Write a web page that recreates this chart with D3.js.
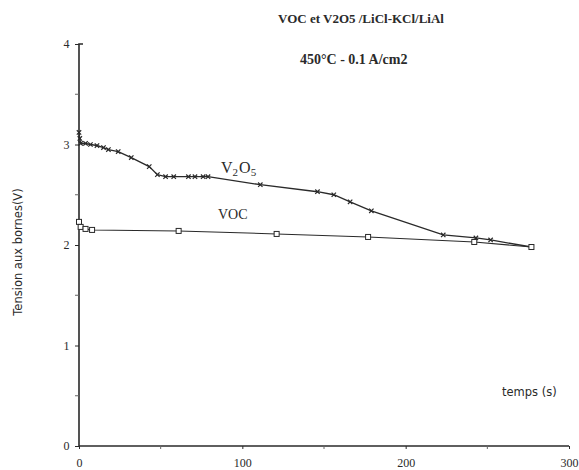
<!DOCTYPE html>
<html>
<head>
<meta charset="utf-8">
<script src="https://cdn.jsdelivr.net/npm/d3@7/dist/d3.min.js"></script>
<style>
  html, body { margin: 0; padding: 0; background: #fff; }
  svg { display: block; }
</style>
</head>
<body>
<svg id="chart" width="579" height="470"></svg>
<script>
// ---- data ----
const v2o5Time = [0, 0.5, 1, 4, 7, 11, 15, 18, 24, 32, 43, 48, 53, 58, 67, 71, 76, 79, 111, 146, 156, 166, 179, 223, 243, 252, 277];
const v2o5Volt = [3.12, 3.06, 3.01, 3.01, 3.0, 2.99, 2.97, 2.95, 2.93, 2.87, 2.78, 2.70, 2.68, 2.68, 2.68, 2.68, 2.68, 2.68, 2.60, 2.53, 2.50, 2.43, 2.34, 2.10, 2.07, 2.05, 1.98];
const vocTime = [0, 1, 4, 8, 61, 121, 177, 242, 277];
const vocVolt = [2.23, 2.18, 2.16, 2.15, 2.14, 2.11, 2.08, 2.03, 1.98];
const xTicks = [0, 100, 200, 300];
const yTicks = [0, 1, 2, 3, 4];
const xMinorTicks = [50, 150, 250];
const yMinorTicks = [0.5, 1.5, 2.5, 3.5];
const titleLines = ["VOC et V2O5 /LiCl-KCl/LiAl", "450°C - 0.1 A/cm2"];
const xLabel = "temps (s)";
const yLabel = "Tension aux bornes(V)";

const svg = d3.select("#chart");
const x = d3.scaleLinear().domain([0, 300]).range([79, 569]);
const y = d3.scaleLinear().domain([0, 4]).range([446, 44]);
const ink = "#2a2a2a";
const serif = "'Liberation Serif', 'DejaVu Serif', serif";
const sans = "'DejaVu Sans', 'Noto Sans', sans-serif";

// axes
const xAxis = d3.axisBottom(x).tickValues(xTicks).tickSize(3).tickFormat(d3.format("d"));
const gx = svg.append("g").attr("transform", `translate(0,${y(0)})`).call(xAxis);
gx.select(".domain").attr("stroke", ink).attr("stroke-width", 1.6).attr("d", `M${x(0)},0H${x(300)}`);
gx.selectAll(".tick line").attr("stroke", ink);
gx.selectAll(".tick text").attr("font-family", serif).attr("font-size", 12).attr("fill", ink).attr("dy", "1.25em");

const gxm = svg.append("g").attr("transform", `translate(0,${y(0)})`);
gxm.selectAll("line").data(xMinorTicks).join("line")
  .attr("x1", d => x(d)).attr("x2", d => x(d)).attr("y1", -1).attr("y2", 3)
  .attr("stroke", "#666").attr("stroke-width", 1);

const yAxis = d3.axisLeft(y).tickValues(yTicks).tickSize(4).tickFormat(d3.format("d"));
const gy = svg.append("g").attr("transform", `translate(${x(0)},0)`).call(yAxis);
gy.select(".domain").attr("stroke", ink).attr("stroke-width", 1.6).attr("d", `M0,${y(0)}V${y(4)}H4`);
gy.selectAll(".tick line").attr("stroke", ink);
gy.selectAll(".tick text").attr("font-family", serif).attr("font-size", 12).attr("fill", ink).attr("dx", "-0.2em");

const gym = svg.append("g").attr("transform", `translate(${x(0)},0)`);
gym.selectAll("line").data(yMinorTicks).join("line")
  .attr("x1", -4).attr("x2", 0).attr("y1", d => y(d)).attr("y2", d => y(d))
  .attr("stroke", "#666").attr("stroke-width", 1);

// series
const v2o5 = v2o5Time.map((t, i) => ({t, v: v2o5Volt[i]}));
const voc = vocTime.map((t, i) => ({t, v: vocVolt[i]}));
const line = d3.line().x(d => x(d.t)).y(d => y(d.v));

svg.append("path").datum(voc).attr("d", line).attr("fill", "none").attr("stroke", ink).attr("stroke-width", 1.1);
svg.append("path").datum(v2o5).attr("d", line).attr("fill", "none").attr("stroke", ink).attr("stroke-width", 1.3);

// x markers
const s = 2.2;
svg.append("g").selectAll("path").data(v2o5).join("path")
  .attr("d", d => `M${x(d.t)-s},${y(d.v)-s}L${x(d.t)+s},${y(d.v)+s}M${x(d.t)-s},${y(d.v)+s}L${x(d.t)+s},${y(d.v)-s}`)
  .attr("stroke", ink).attr("stroke-width", 1.2).attr("fill", "none");

// square markers
svg.append("g").selectAll("rect").data(voc).join("rect")
  .attr("x", d => x(d.t) - 2.5).attr("y", d => y(d.v) - 2.5)
  .attr("width", 5).attr("height", 5)
  .attr("fill", "#fff").attr("stroke", ink).attr("stroke-width", 1);

// series labels
const lab = svg.append("text").attr("x", 221).attr("y", 173)
  .attr("font-family", serif).attr("font-size", 16).attr("fill", ink);
lab.append("tspan").text("V");
lab.append("tspan").attr("font-size", 11).attr("dy", 3).text("2");
lab.append("tspan").attr("dy", -3).attr("dx", 1).text("O");
lab.append("tspan").attr("font-size", 11).attr("dy", 3).text("5");

svg.append("text").attr("x", 218).attr("y", 219)
  .attr("font-family", serif).attr("font-size", 14).attr("fill", ink).text("VOC");

// titles
svg.append("text").attr("x", 278).attr("y", 23)
  .attr("font-family", serif).attr("font-size", 13).attr("font-weight", "bold").attr("fill", ink).text(titleLines[0]);
svg.append("text").attr("x", 300).attr("y", 64)
  .attr("font-family", serif).attr("font-size", 14).attr("font-weight", "bold").attr("fill", ink).text(titleLines[1]);

// axis titles
svg.append("text").attr("x", 502).attr("y", 396)
  .attr("font-family", sans).attr("font-size", 11.5).attr("fill", ink).text(xLabel);
svg.append("text").attr("transform", "translate(22,252) rotate(-90)").attr("text-anchor", "middle")
  .attr("font-family", sans).attr("font-size", 11.5).attr("fill", ink).text(yLabel);
</script>
</body>
</html>
